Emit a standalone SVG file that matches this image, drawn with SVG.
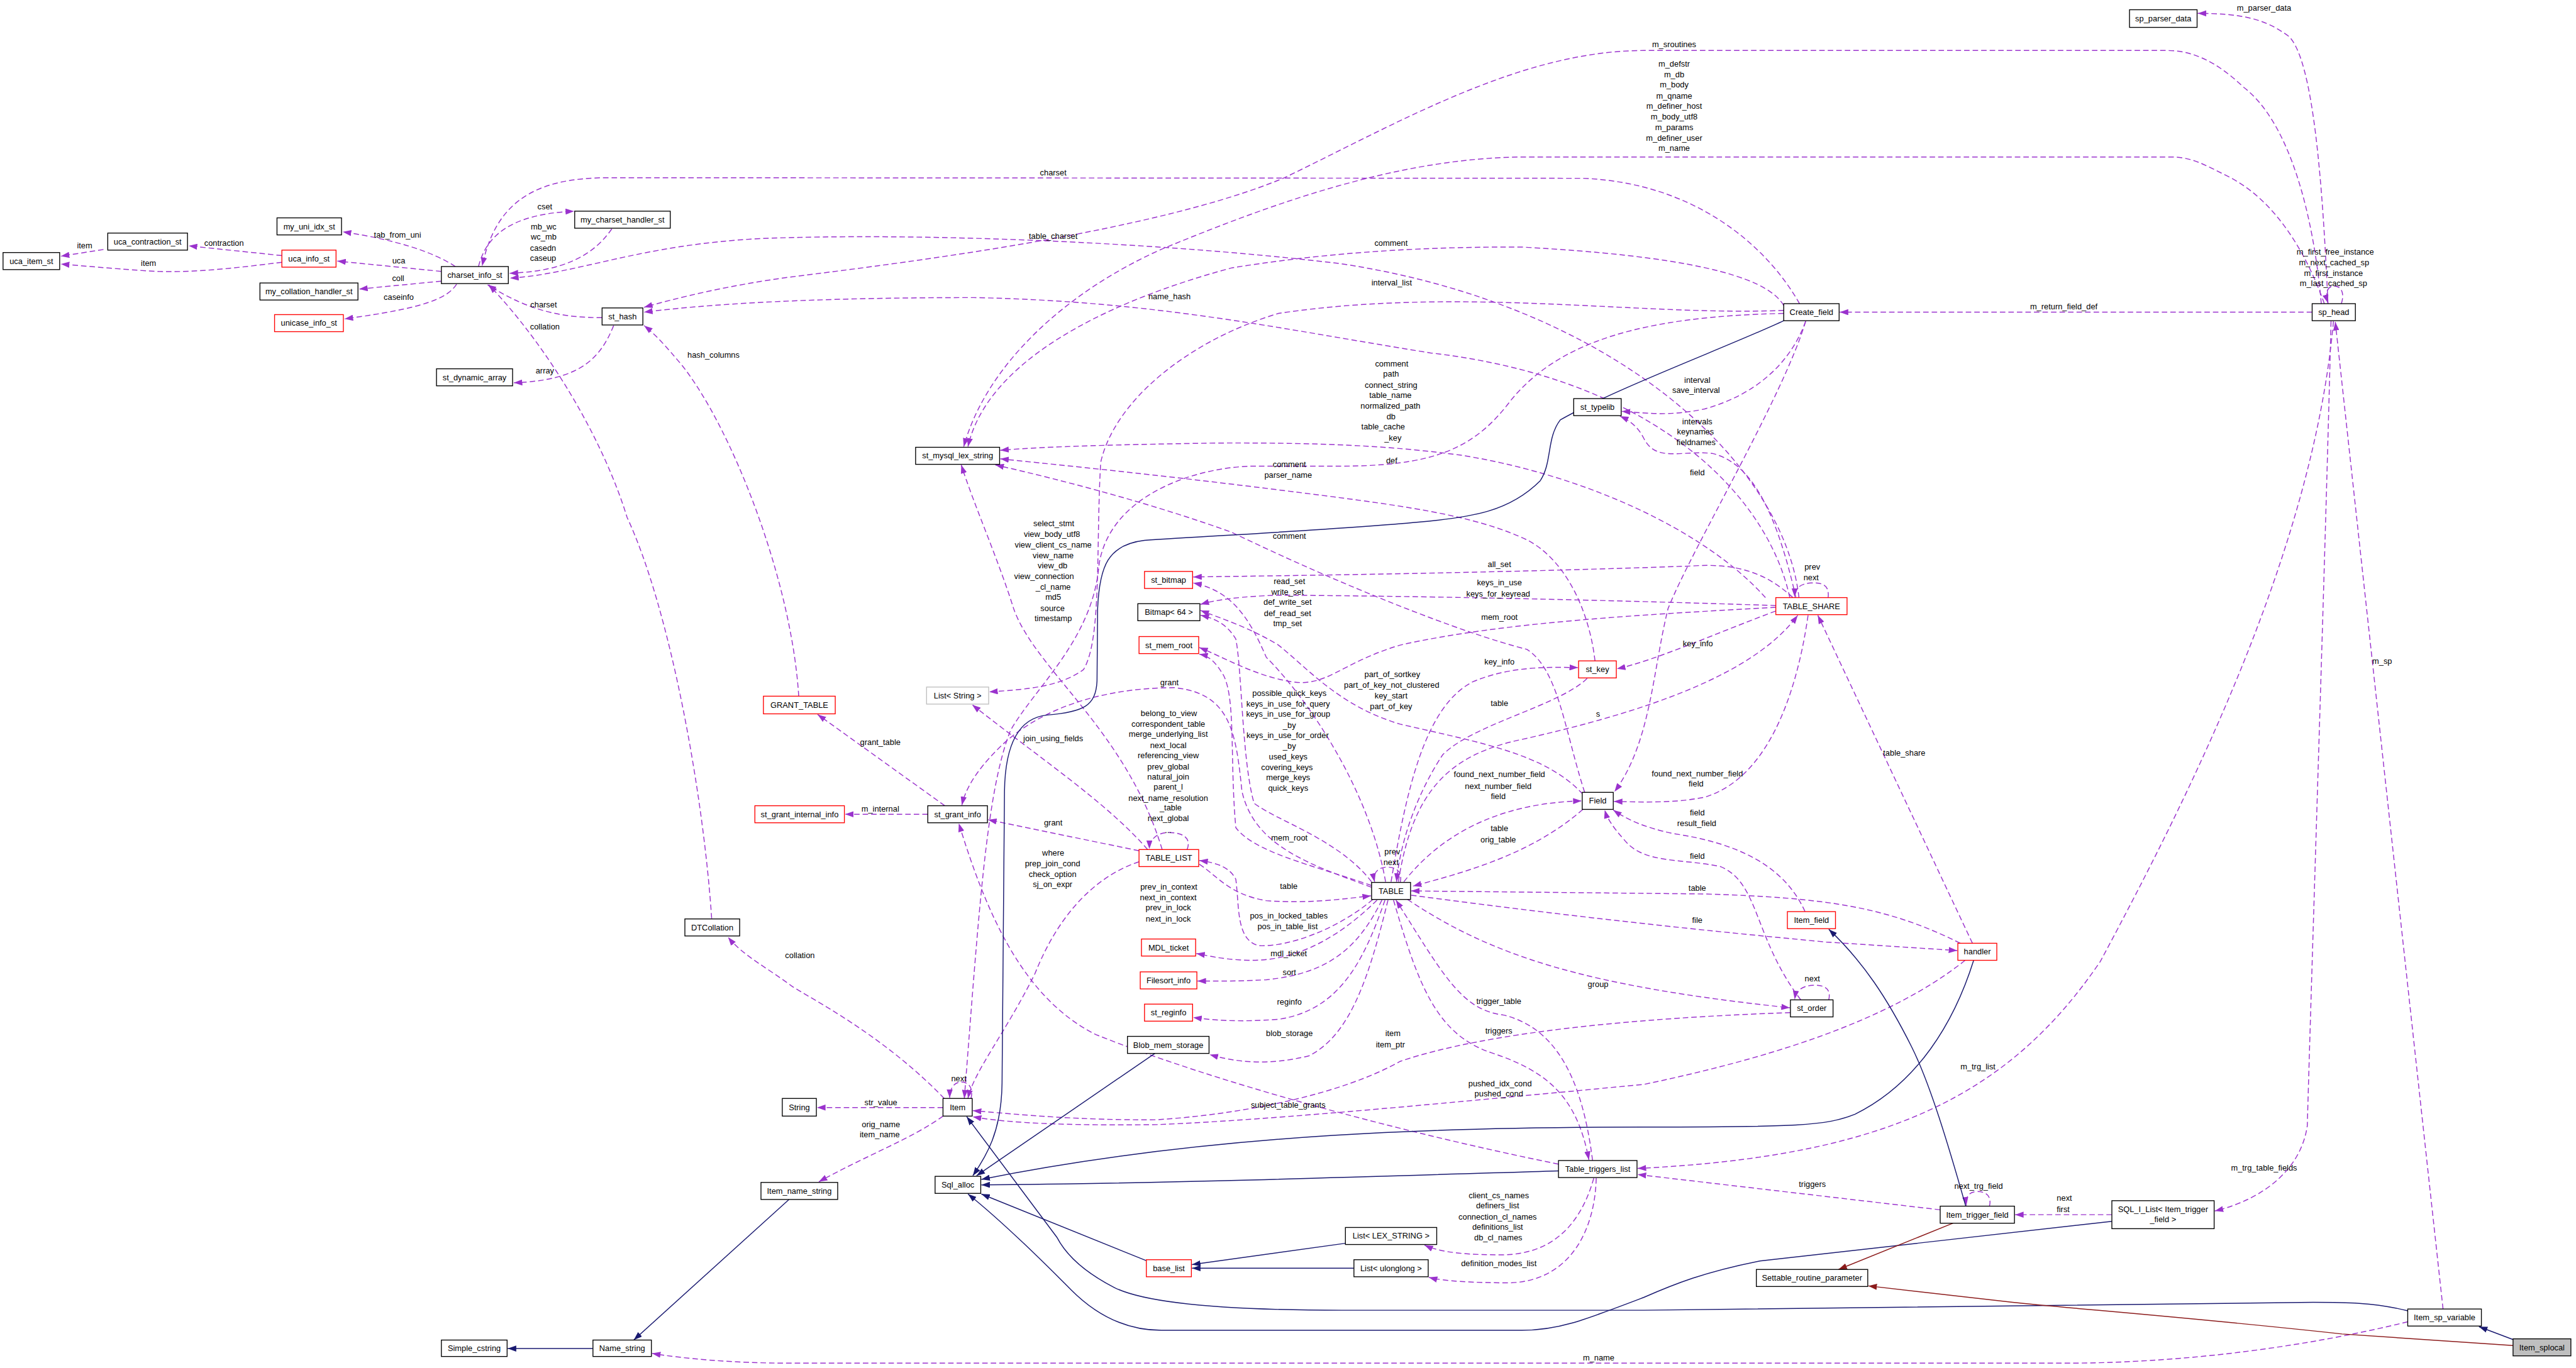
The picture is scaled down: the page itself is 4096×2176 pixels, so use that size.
<svg xmlns="http://www.w3.org/2000/svg" width="4096" height="2176" viewBox="0 0 4096 2176">
<style>
.n rect{fill:#fff;stroke:#000;stroke-width:1.4}
.n.red rect{stroke:#ff0000}
.n.gry rect{stroke:#bfbfbf}
.n.fill rect{fill:#bfbfbf}
text{font-family:"Liberation Sans",Arial,sans-serif;font-size:13.3px;fill:#000;text-anchor:middle}
.u{fill:none;stroke:#9a32cd;stroke-width:1.5;stroke-dasharray:9,5;marker-end:url(#pa)}
.b{fill:none;stroke:#191970;stroke-width:1.5;marker-end:url(#ba)}
.r{fill:none;stroke:#8b1a1a;stroke-width:1.5;marker-end:url(#ra)}
</style>
<defs>
<marker id="pa" markerUnits="userSpaceOnUse" markerWidth="14" markerHeight="10" viewBox="0 0 14 10" refX="14" refY="5" orient="auto"><path d="M0,0L14,5L0,10z" fill="#9a32cd"/></marker>
<marker id="ba" markerUnits="userSpaceOnUse" markerWidth="14" markerHeight="10" viewBox="0 0 14 10" refX="14" refY="5" orient="auto"><path d="M0,0L14,5L0,10z" fill="#191970"/></marker>
<marker id="ra" markerUnits="userSpaceOnUse" markerWidth="14" markerHeight="10" viewBox="0 0 14 10" refX="14" refY="5" orient="auto"><path d="M0,0L14,5L0,10z" fill="#8b1a1a"/></marker>
</defs>
<rect width="4096" height="2176" fill="#fff"/>
<g transform="scale(0.968)">
<g id="edges">
<path class="u" d="M170,410 L100,421"/>
<path class="u" d="M463,420 L310,404"/>
<path class="u" d="M463,431 C390,440 310,450 240,445 C180,441 140,437 100,434"/>
<path class="u" d="M748,438 Q690,400 563,381"/>
<path class="u" d="M725,446 L554,429"/>
<path class="u" d="M725,462 L590,475"/>
<path class="u" d="M750,467 C735,490 700,506 566,524"/>
<path class="u" d="M786,438 C798,390 835,352 943,347"/>
<path class="u" d="M1005,376 C975,420 925,446 837,449"/>
<path class="u" d="M989,522 C925,522 870,512 801,468"/>
<path class="u" d="M1008,535 C985,592 950,625 844,629"/>
<path class="u" d="M1169,1509 C1155,1300 1100,1000 1030,850 C990,720 900,570 803,468"/>
<path class="u" d="M2955,982 C2930,760 2650,500 2200,433 C1900,397 1500,382 1250,392 C1050,402 950,450 838,457"/>
<path class="u" d="M2956,499 C2900,400 2780,300 2600,293 L1000,292 C880,292 815,330 792,437"/>
<path class="u" d="M2940,982 C2900,800 2700,620 2350,580 C2100,540 1900,495 1600,489 C1400,489 1200,495 1058,513"/>
<path class="u" d="M3813,499 C3800,350 3760,200 3685,143 C3640,100 3600,83 3560,83 L2700,83 C2500,83 2300,200 2110,292 C1900,380 1500,430 1300,455 C1200,468 1110,490 1058,505"/>
<path class="u" d="M3818,499 C3790,420 3740,330 3660,290 C3620,270 3600,258 3566,258 L2500,258 C2300,260 2100,330 1907,410 C1750,480 1620,600 1583,734"/>
<path class="u" d="M3824,499 C3815,300 3800,100 3760,60 C3720,30 3680,22 3610,22"/>
<path class="u" d="M3846,499 C3852,480 3845,470 3834,470 C3823,470 3819,482 3824,498"/>
<path class="u" d="M3798,513 L3022,513"/>
<path class="u" d="M3833,528 C3800,900 3600,1300 3450,1580 C3300,1800 3100,1900 2690,1920"/>
<path class="u" d="M3829,528 C3820,900 3800,1500 3790,1850 C3780,1920 3720,1970 3638,1990"/>
<path class="u" d="M4013,2151 L3836,529"/>
<path class="u" d="M3955,2172 C3800,2210 3600,2240 3390,2240 L1300,2240 C1200,2240 1120,2232 1071,2224"/>
<path class="u" d="M2930,502 C2900,450 2756,420 2500,406 C2300,405 2150,420 2024,440 C1800,500 1620,600 1590,734"/>
<path class="u" d="M2966,528 C2940,600 2880,650 2800,672 C2740,685 2700,678 2664,676"/>
<path class="u" d="M2950,982 C2920,850 2880,760 2812,745 C2760,740 2720,760 2700,720 C2690,700 2675,690 2661,684"/>
<path class="u" d="M2966,528 C2930,650 2780,900 2740,1000 C2715,1100 2712,1220 2652,1301"/>
<path class="u" d="M2970,1011 C2950,1150 2900,1280 2800,1310 C2750,1320 2700,1318 2651,1317"/>
<path class="u" d="M2965,1498 C2930,1420 2850,1385 2750,1370 C2700,1360 2670,1345 2650,1331"/>
<path class="u" d="M2958,1643 C2880,1540 2890,1450 2826,1424 C2760,1410 2700,1420 2668,1380 C2650,1360 2640,1345 2636,1331"/>
<path class="u" d="M3220,1550 C3100,1490 3000,1475 2800,1469 L2318,1464"/>
<path class="u" d="M2318,1471 C2500,1495 2700,1520 3000,1548 L3215,1562"/>
<path class="u" d="M3240,1550 L2986,1011"/>
<path class="u" d="M2312,1478 C2450,1570 2600,1620 2940,1656"/>
<path class="u" d="M2941,1664 C2700,1672 2444,1695 2300,1744 C2204,1798 2042,1831 1900,1840 C1774,1841 1680,1832 1598,1825"/>
<path class="u" d="M3004,1643 C3008,1625 2998,1618 2978,1619 C2960,1620 2950,1628 2948,1642"/>
<path class="u" d="M1595,1805 C1600,1785 1588,1777 1578,1778 C1566,1779 1560,1790 1560,1804"/>
<path class="u" d="M1549,1820 L1342,1820"/>
<path class="u" d="M1549,1834 C1500,1870 1420,1900 1345,1942"/>
<path class="u" d="M3228,1578 C3100,1680 2900,1740 2700,1782 C2400,1810 2100,1840 1900,1848 C1750,1850 1650,1845 1598,1835"/>
<path class="u" d="M2616,1907 C2600,1780 2560,1690 2470,1668 C2400,1660 2370,1600 2293,1479"/>
<path class="u" d="M2289,1479 C2330,1620 2360,1700 2450,1730 C2540,1760 2590,1800 2610,1906"/>
<path class="u" d="M3187,1988 L2690,1930"/>
<path class="u" d="M3268,1982 C3272,1965 3262,1958 3248,1958 C3235,1958 3228,1966 3230,1981"/>
<path class="u" d="M3469,1996 L3310,1996"/>
<path class="u" d="M2618,1936 C2600,2000 2560,2060 2470,2062 C2420,2062 2370,2060 2340,2046"/>
<path class="u" d="M2622,1936 C2620,2020 2580,2105 2480,2108 C2420,2108 2370,2105 2347,2099"/>
<path class="u" d="M2280,1479 C2250,1600 2220,1700 2150,1735 C2080,1752 2030,1745 1987,1733"/>
<path class="u" d="M2275,1479 C2240,1580 2200,1660 2100,1675 C2030,1680 1990,1676 1960,1672"/>
<path class="u" d="M2270,1479 C2230,1560 2180,1600 2080,1610 C2020,1613 1990,1612 1967,1612"/>
<path class="u" d="M2262,1479 C2200,1540 2130,1580 2050,1578 C2000,1576 1985,1570 1965,1567"/>
<path class="u" d="M2255,1478 C2200,1525 2120,1556 2068,1554 C2030,1545 2036,1490 2030,1445 C2020,1425 2000,1418 1970,1414"/>
<path class="u" d="M1970,1420 C2000,1440 2020,1470 2080,1480 C2150,1485 2200,1478 2252,1472"/>
<path class="u" d="M1950,1396 C1958,1375 1940,1368 1920,1368 C1900,1368 1888,1380 1888,1395"/>
<path class="u" d="M1871,1398 L1623,1347"/>
<path class="u" d="M2253,1458 C2150,1420 2060,1390 2040,1300 C2030,1200 2020,1140 1930,1130 C1800,1130 1700,1170 1640,1230 C1600,1270 1585,1300 1580,1323"/>
<path class="u" d="M1552,1324 L1343,1174"/>
<path class="u" d="M1524,1338 L1388,1338"/>
<path class="u" d="M1312,1144 C1300,950 1200,700 1120,600 C1095,570 1075,548 1058,535"/>
<path class="u" d="M1885,1396 C1820,1320 1700,1240 1597,1158"/>
<path class="u" d="M1871,1416 C1800,1440 1740,1500 1700,1600 C1650,1700 1600,1760 1590,1805"/>
<path class="u" d="M1909,1396 C1850,1200 1700,1100 1665,1000 C1640,920 1600,830 1579,764"/>
<path class="u" d="M2930,510 C2700,520 2400,470 2100,515 C1950,560 1830,660 1808,760 C1800,900 1810,1050 1780,1100 C1740,1130 1680,1133 1625,1137"/>
<path class="u" d="M2900,982 C2800,870 2600,780 2400,748 C2300,735 2200,727 2000,728 C1800,731 1700,735 1643,740"/>
<path class="u" d="M2930,515 C2700,520 2560,560 2480,660 C2420,740 2350,766 2200,766 L2053,766 C1950,770 1820,820 1805,930 C1795,1050 1700,1130 1660,1200 C1620,1300 1608,1500 1584,1805"/>
<path class="u" d="M2620,1086 C2610,1000 2570,920 2510,888 C2420,845 2300,830 2100,805 C1900,780 1750,765 1643,754"/>
<path class="u" d="M2603,1302 C2570,1200 2560,1100 2508,1067 C2400,1040 2200,960 2024,875 C1900,830 1750,790 1635,764"/>
<path class="u" d="M2607,1115 C2560,1160 2420,1190 2370,1240 C2330,1300 2300,1380 2294,1449"/>
<path class="u" d="M2285,1449 C2310,1300 2340,1160 2420,1120 C2480,1095 2540,1096 2592,1097"/>
<path class="u" d="M2917,1004 C2820,1040 2720,1085 2656,1099"/>
<path class="u" d="M2297,1449 C2320,1300 2380,1240 2500,1215 C2700,1170 2880,1110 2953,1011"/>
<path class="u" d="M2306,1449 C2360,1380 2450,1320 2598,1316"/>
<path class="u" d="M2600,1330 C2520,1400 2420,1430 2321,1456"/>
<path class="u" d="M2300,1450 C2305,1430 2290,1424 2276,1425 C2262,1426 2255,1436 2258,1449"/>
<path class="u" d="M2276,1449 C2250,1300 2150,1150 2080,1080 C2050,1010 2020,970 1960,958"/>
<path class="u" d="M2945,982 C2900,940 2850,925 2780,930 C2500,940 2200,945 1960,948"/>
<path class="u" d="M2917,995 C2700,988 2400,980 2100,978 C2040,980 2000,985 1972,993"/>
<path class="u" d="M2253,1449 C2200,1380 2100,1350 2060,1320 C2040,1250 2040,1100 2030,1050 C2015,1025 1995,1016 1972,1011"/>
<path class="u" d="M2600,1305 C2540,1240 2440,1222 2300,1190 C2200,1160 2150,1100 2100,1060 C2050,1030 2010,1018 1972,1003"/>
<path class="u" d="M2253,1455 C2150,1420 2060,1400 2030,1360 C2020,1250 2030,1150 2010,1110 C1995,1085 1985,1078 1970,1075"/>
<path class="u" d="M2917,998 C2700,1010 2470,1022 2300,1060 C2200,1090 2180,1130 2120,1120 C2060,1110 2010,1080 1970,1064"/>
<path class="u" d="M3003,982 C3005,962 2995,957 2975,958 C2958,959 2948,966 2948,981"/>
<path class="u" d="M1551,1805 C1450,1700 1330,1640 1300,1620 C1260,1590 1220,1570 1196,1540"/>
<path class="u" d="M2560,1913 C2300,1860 2000,1780 1800,1700 C1680,1640 1620,1500 1575,1353"/>
<path class="b" d="M2930,527 C2850,565 2650,640 2563,690 C2540,720 2550,760 2530,790 C2480,840 2420,850 2330,858 C2200,870 2000,880 1880,888 C1820,895 1806,930 1803,1000 L1802,1119 C1800,1160 1780,1170 1720,1175 C1670,1180 1651,1230 1650,1300 L1646,1780 C1645,1860 1620,1900 1598,1932"/>
<path class="b" d="M1897,1731 L1604,1932"/>
<path class="b" d="M3242,1578 C3210,1680 3150,1780 3047,1831 C3000,1850 2950,1852 2700,1852 C2400,1852 2000,1860 1612,1938"/>
<path class="b" d="M2560,1924 C2200,1935 1900,1945 1612,1947"/>
<path class="b" d="M1884,2072 L1612,1962"/>
<path class="b" d="M3469,2007 L2891,2072 C2800,2090 2750,2110 2700,2132 C2600,2170 2560,2186 2500,2186 L1908,2186 C1850,2186 1800,2160 1760,2120 C1720,2080 1650,2010 1590,1962"/>
<path class="b" d="M3955,2154 C3900,2140 3850,2140 3800,2140 L2700,2153 L2204,2153 C2000,2153 1880,2140 1831,2116 C1780,2090 1750,2060 1736,2033 L1588,1835"/>
<path class="b" d="M4130,2202 L4072,2180"/>
<path class="b" d="M2210,2043 L1958,2078"/>
<path class="b" d="M2224,2084 L1958,2084"/>
<path class="b" d="M1296,1971 L1041,2202"/>
<path class="b" d="M974,2216 L834,2216"/>
<path class="b" d="M3229,1982 C3200,1880 3170,1780 3140,1720 C3100,1640 3060,1580 3004,1527"/>
<path class="r" d="M3208,2010 L3020,2086"/>
<path class="r" d="M4128,2211 L3847,2192 C3600,2165 3400,2150 3306,2140 L3069,2113"/>
</g>
<g id="labels">
<text x="139" y="408">item</text>
<text x="244" y="437">item</text>
<text x="368" y="404">contraction</text>
<text x="653" y="390">tab_from_uni</text>
<text x="655" y="433">uca</text>
<text x="654" y="462">coll</text>
<text x="655" y="493">caseinfo</text>
<text x="895" y="344">cset</text>
<text x="893" y="377">mb_wc</text>
<text x="893" y="394">wc_mb</text>
<text x="892" y="412">casedn</text>
<text x="892" y="429">caseup</text>
<text x="893" y="505">charset</text>
<text x="895" y="541">collation</text>
<text x="895" y="614">array</text>
<text x="1172" y="588">hash_columns</text>
<text x="1730" y="288">charset</text>
<text x="1730" y="393">table_charset</text>
<text x="1921" y="492">name_hash</text>
<text x="2286" y="469">interval_list</text>
<text x="2285" y="404">comment</text>
<text x="2750" y="77">m_sroutines</text>
<text x="2750" y="110">m_defstr</text>
<text x="2750" y="127">m_db</text>
<text x="2750" y="144">m_body</text>
<text x="2750" y="162">m_qname</text>
<text x="2750" y="179">m_definer_host</text>
<text x="2750" y="196">m_body_utf8</text>
<text x="2750" y="214">m_params</text>
<text x="2750" y="231">m_definer_user</text>
<text x="2750" y="248">m_name</text>
<text x="3719" y="18">m_parser_data</text>
<text x="3836" y="418">m_first_free_instance</text>
<text x="3834" y="436">m_next_cached_sp</text>
<text x="3833" y="453">m_first_instance</text>
<text x="3833" y="470">m_last_cached_sp</text>
<text x="3390" y="508">m_return_field_def</text>
<text x="2286" y="602">comment</text>
<text x="2285" y="619">path</text>
<text x="2285" y="637">connect_string</text>
<text x="2284" y="654">table_name</text>
<text x="2284" y="672">normalized_path</text>
<text x="2285" y="689">db</text>
<text x="2272" y="706">table_cache</text>
<text x="2288" y="724">_key</text>
<text x="2286" y="761">def</text>
<text x="2118" y="768">comment</text>
<text x="2116" y="785">parser_name</text>
<text x="2118" y="885">comment</text>
<text x="1731" y="865">select_stmt</text>
<text x="1728" y="882">view_body_utf8</text>
<text x="1730" y="900">view_client_cs_name</text>
<text x="1730" y="917">view_name</text>
<text x="1729" y="934">view_db</text>
<text x="1715" y="951">view_connection</text>
<text x="1730" y="969">_cl_name</text>
<text x="1730" y="986">md5</text>
<text x="1729" y="1004">source</text>
<text x="1730" y="1021">timestamp</text>
<text x="2118" y="960">read_set</text>
<text x="2115" y="977">write_set</text>
<text x="2115" y="994">def_write_set</text>
<text x="2115" y="1012">def_read_set</text>
<text x="2115" y="1029">tmp_set</text>
<text x="2788" y="629">interval</text>
<text x="2786" y="646">save_interval</text>
<text x="2788" y="697">intervals</text>
<text x="2785" y="714">keynames</text>
<text x="2786" y="731">fieldnames</text>
<text x="2788" y="781">field</text>
<text x="2463" y="932">all_set</text>
<text x="2463" y="962">keys_in_use</text>
<text x="2461" y="980">keys_for_keyread</text>
<text x="2463" y="1019">mem_root</text>
<text x="2977" y="936">prev</text>
<text x="2975" y="953">next</text>
<text x="1921" y="1126">grant</text>
<text x="1446" y="1224">grant_table</text>
<text x="1730" y="1218">join_using_fields</text>
<text x="1920" y="1177">belong_to_view</text>
<text x="1919" y="1194">correspondent_table</text>
<text x="1919" y="1211">merge_underlying_list</text>
<text x="1919" y="1229">next_local</text>
<text x="1919" y="1246">referencing_view</text>
<text x="1919" y="1264">prev_global</text>
<text x="1919" y="1281">natural_join</text>
<text x="1919" y="1298">parent_l</text>
<text x="1919" y="1316">next_name_resolution</text>
<text x="1923" y="1332">_table</text>
<text x="1919" y="1349">next_global</text>
<text x="1919" y="1369">...</text>
<text x="1446" y="1334">m_internal</text>
<text x="1730" y="1356">grant</text>
<text x="1730" y="1406">where</text>
<text x="1729" y="1424">prep_join_cond</text>
<text x="1729" y="1441">check_option</text>
<text x="1729" y="1458">sj_on_expr</text>
<text x="1920" y="1462">prev_in_context</text>
<text x="1919" y="1479">next_in_context</text>
<text x="1919" y="1496">prev_in_lock</text>
<text x="1919" y="1514">next_in_lock</text>
<text x="1314" y="1574">collation</text>
<text x="2463" y="1092">key_info</text>
<text x="2287" y="1113">part_of_sortkey</text>
<text x="2286" y="1130">part_of_key_not_clustered</text>
<text x="2285" y="1148">key_start</text>
<text x="2285" y="1165">part_of_key</text>
<text x="2463" y="1160">table</text>
<text x="2625" y="1178">s</text>
<text x="2118" y="1144">possible_quick_keys</text>
<text x="2116" y="1161">keys_in_use_for_query</text>
<text x="2116" y="1178">keys_in_use_for_group</text>
<text x="2118" y="1196">_by</text>
<text x="2115" y="1213">keys_in_use_for_order</text>
<text x="2118" y="1230">_by</text>
<text x="2116" y="1248">used_keys</text>
<text x="2114" y="1265">covering_keys</text>
<text x="2116" y="1282">merge_keys</text>
<text x="2116" y="1300">quick_keys</text>
<text x="2463" y="1277">found_next_number_field</text>
<text x="2461" y="1296">next_number_field</text>
<text x="2461" y="1313">field</text>
<text x="2463" y="1366">table</text>
<text x="2461" y="1384">orig_table</text>
<text x="2118" y="1381">mem_root</text>
<text x="2287" y="1404">prev</text>
<text x="2285" y="1421">next</text>
<text x="2117" y="1461">table</text>
<text x="2117" y="1509">pos_in_locked_tables</text>
<text x="2115" y="1527">pos_in_table_list</text>
<text x="2117" y="1571">mdl_ticket</text>
<text x="2118" y="1602">sort</text>
<text x="2625" y="1622">group</text>
<text x="2118" y="1651">reginfo</text>
<text x="2462" y="1650">trigger_table</text>
<text x="2118" y="1702">blob_storage</text>
<text x="2288" y="1702">item</text>
<text x="2284" y="1721">item_ptr</text>
<text x="2462" y="1698">triggers</text>
<text x="2789" y="1062">key_info</text>
<text x="3128" y="1242">table_share</text>
<text x="2788" y="1276">found_next_number_field</text>
<text x="2786" y="1292">field</text>
<text x="2788" y="1340">field</text>
<text x="2787" y="1357">result_field</text>
<text x="2788" y="1411">field</text>
<text x="2788" y="1464">table</text>
<text x="2788" y="1517">file</text>
<text x="2977" y="1613">next</text>
<text x="1575" y="1777">next</text>
<text x="1447" y="1816">str_value</text>
<text x="2464" y="1785">pushed_idx_cond</text>
<text x="2462" y="1802">pushed_cond</text>
<text x="2116" y="1820">subject_table_grants</text>
<text x="1447" y="1852">orig_name</text>
<text x="1445" y="1869">item_name</text>
<text x="2462" y="1969">client_cs_names</text>
<text x="2460" y="1986">definers_list</text>
<text x="2460" y="2004">connection_cl_names</text>
<text x="2460" y="2021">definitions_list</text>
<text x="2461" y="2038">db_cl_names</text>
<text x="2462" y="2081">definition_modes_list</text>
<text x="2626" y="2236">m_name</text>
<text x="3249" y="1757">m_trg_list</text>
<text x="3719" y="1924">m_trg_table_fields</text>
<text x="2977" y="1950">triggers</text>
<text x="3250" y="1953">next_trg_field</text>
<text x="3391" y="1973">next</text>
<text x="3389" y="1992">first</text>
<text x="3913" y="1091">m_sp</text>
</g>
<g id="n_uca_item_st" class="n"><rect x="5" y="415" width="93" height="28"/><text x="51.5" y="433.6">uca_item_st</text></g>
<g id="n_uca_contraction_st" class="n"><rect x="177" y="383" width="131" height="28"/><text x="242.5" y="401.6">uca_contraction_st</text></g>
<g id="n_my_uni_idx_st" class="n"><rect x="455" y="358" width="106" height="28"/><text x="508" y="376.6">my_uni_idx_st</text></g>
<g id="n_uca_info_st" class="n red"><rect x="463" y="411" width="89" height="28"/><text x="507.5" y="429.6">uca_info_st</text></g>
<g id="n_my_collation_handler_st" class="n"><rect x="427" y="465" width="161" height="28"/><text x="507.5" y="483.6">my_collation_handler_st</text></g>
<g id="n_unicase_info_st" class="n red"><rect x="451" y="517" width="113" height="28"/><text x="507.5" y="535.6">unicase_info_st</text></g>
<g id="n_charset_info_st" class="n"><rect x="725" y="438" width="110" height="28"/><text x="780" y="456.6">charset_info_st</text></g>
<g id="n_my_charset_handler_st" class="n"><rect x="944" y="347" width="157" height="28"/><text x="1022.5" y="365.6">my_charset_handler_st</text></g>
<g id="n_st_hash" class="n"><rect x="989" y="506" width="67" height="28"/><text x="1022.5" y="524.6">st_hash</text></g>
<g id="n_st_dynamic_array" class="n"><rect x="717" y="606" width="125" height="28"/><text x="779.5" y="624.6">st_dynamic_array</text></g>
<g id="n_st_mysql_lex_string" class="n"><rect x="1504" y="735" width="138" height="28"/><text x="1573" y="753.6">st_mysql_lex_string</text></g>
<g id="n_st_bitmap" class="n red"><rect x="1880" y="939" width="79" height="28"/><text x="1919.5" y="957.6">st_bitmap</text></g>
<g id="n_Bitmap64" class="n"><rect x="1869" y="992" width="102" height="28"/><text x="1920" y="1010.6">Bitmap&lt; 64 &gt;</text></g>
<g id="n_st_mem_root" class="n red"><rect x="1871" y="1046" width="98" height="28"/><text x="1920" y="1064.6">st_mem_root</text></g>
<g id="n_List_String" class="n gry"><rect x="1522" y="1129" width="102" height="28"/><text x="1573" y="1147.6">List&lt; String &gt;</text></g>
<g id="n_GRANT_TABLE" class="n red"><rect x="1254" y="1144" width="118" height="29"/><text x="1313" y="1163">GRANT_TABLE</text></g>
<g id="n_st_grant_internal_info" class="n red"><rect x="1240" y="1324" width="147" height="28"/><text x="1313.5" y="1342.6">st_grant_internal_info</text></g>
<g id="n_st_grant_info" class="n"><rect x="1524" y="1324" width="98" height="28"/><text x="1573" y="1342.6">st_grant_info</text></g>
<g id="n_TABLE_LIST" class="n red"><rect x="1871" y="1396" width="98" height="28"/><text x="1920" y="1414.6">TABLE_LIST</text></g>
<g id="n_MDL_ticket" class="n red"><rect x="1875" y="1543" width="89" height="28"/><text x="1919.5" y="1561.6">MDL_ticket</text></g>
<g id="n_Filesort_info" class="n red"><rect x="1873" y="1597" width="93" height="28"/><text x="1919.5" y="1615.6">Filesort_info</text></g>
<g id="n_st_reginfo" class="n red"><rect x="1880" y="1650" width="79" height="28"/><text x="1919.5" y="1668.6">st_reginfo</text></g>
<g id="n_DTCollation" class="n"><rect x="1125" y="1510" width="90" height="28"/><text x="1170" y="1528.6">DTCollation</text></g>
<g id="n_Blob_mem_storage" class="n"><rect x="1852" y="1703" width="134" height="28"/><text x="1919" y="1721.6">Blob_mem_storage</text></g>
<g id="n_String" class="n"><rect x="1285" y="1805" width="56" height="29"/><text x="1313" y="1824">String</text></g>
<g id="n_Item" class="n"><rect x="1549" y="1805" width="48" height="29"/><text x="1573" y="1824">Item</text></g>
<g id="n_Item_name_string" class="n"><rect x="1250" y="1943" width="126" height="28"/><text x="1313" y="1961.6">Item_name_string</text></g>
<g id="n_Sql_alloc" class="n"><rect x="1536" y="1933" width="75" height="28"/><text x="1573.5" y="1951.6">Sql_alloc</text></g>
<g id="n_Table_triggers_list" class="n"><rect x="2560" y="1907" width="129" height="28"/><text x="2624.5" y="1925.6">Table_triggers_list</text></g>
<g id="n_List_LEX_STRING" class="n"><rect x="2210" y="2017" width="150" height="28"/><text x="2285" y="2035.6">List&lt; LEX_STRING &gt;</text></g>
<g id="n_base_list" class="n red"><rect x="1883" y="2070" width="74" height="28"/><text x="1920" y="2088.6">base_list</text></g>
<g id="n_List_ulonglong" class="n"><rect x="2224" y="2070" width="122" height="28"/><text x="2285" y="2088.6">List&lt; ulonglong &gt;</text></g>
<g id="n_Simple_cstring" class="n"><rect x="725" y="2202" width="108" height="27"/><text x="779" y="2220">Simple_cstring</text></g>
<g id="n_Name_string" class="n"><rect x="974" y="2202" width="96" height="27"/><text x="1022" y="2220">Name_string</text></g>
<g id="n_TABLE" class="n"><rect x="2253" y="1450" width="64" height="28"/><text x="2285" y="1468.6">TABLE</text></g>
<g id="n_st_key" class="n red"><rect x="2593" y="1086" width="62" height="28"/><text x="2624" y="1104.6">st_key</text></g>
<g id="n_Field" class="n"><rect x="2599" y="1302" width="51" height="28"/><text x="2624.5" y="1320.6">Field</text></g>
<g id="n_Item_field" class="n red"><rect x="2936" y="1498" width="79" height="28"/><text x="2975.5" y="1516.6">Item_field</text></g>
<g id="n_handler" class="n red"><rect x="3216" y="1550" width="64" height="28"/><text x="3248" y="1568.6">handler</text></g>
<g id="n_st_order" class="n"><rect x="2941" y="1643" width="70" height="28"/><text x="2976" y="1661.6">st_order</text></g>
<g id="n_st_typelib" class="n"><rect x="2585" y="655" width="78" height="28"/><text x="2624" y="673.6">st_typelib</text></g>
<g id="n_Create_field" class="n"><rect x="2930" y="499" width="91" height="28"/><text x="2975.5" y="517.6">Create_field</text></g>
<g id="n_TABLE_SHARE" class="n red"><rect x="2917" y="982" width="117" height="28"/><text x="2975.5" y="1000.6">TABLE_SHARE</text></g>
<g id="n_sp_parser_data" class="n"><rect x="3498" y="16" width="111" height="29"/><text x="3553.5" y="35">sp_parser_data</text></g>
<g id="n_sp_head" class="n"><rect x="3798" y="499" width="71" height="28"/><text x="3833.5" y="517.6">sp_head</text></g>
<g id="n_Item_trigger_field" class="n"><rect x="3187" y="1982" width="122" height="28"/><text x="3248" y="2000.6">Item_trigger_field</text></g>
<g id="n_SQL_I_List" class="n"><rect x="3469" y="1973" width="168" height="46"/><text x="3553" y="1991.6">SQL_I_List&lt; Item_trigger</text><text x="3553" y="2008.6">_field &gt;</text></g>
<g id="n_Settable_routine_parameter" class="n"><rect x="2885" y="2086" width="183" height="28"/><text x="2976.5" y="2104.6">Settable_routine_parameter</text></g>
<g id="n_Item_sp_variable" class="n"><rect x="3955" y="2151" width="121" height="28"/><text x="4015.5" y="2169.6">Item_sp_variable</text></g>
<g id="n_Item_splocal" class="n fill"><rect x="4128" y="2200" width="95" height="28"/><text x="4175.5" y="2218.6">Item_splocal</text></g>
</g>
</svg>
